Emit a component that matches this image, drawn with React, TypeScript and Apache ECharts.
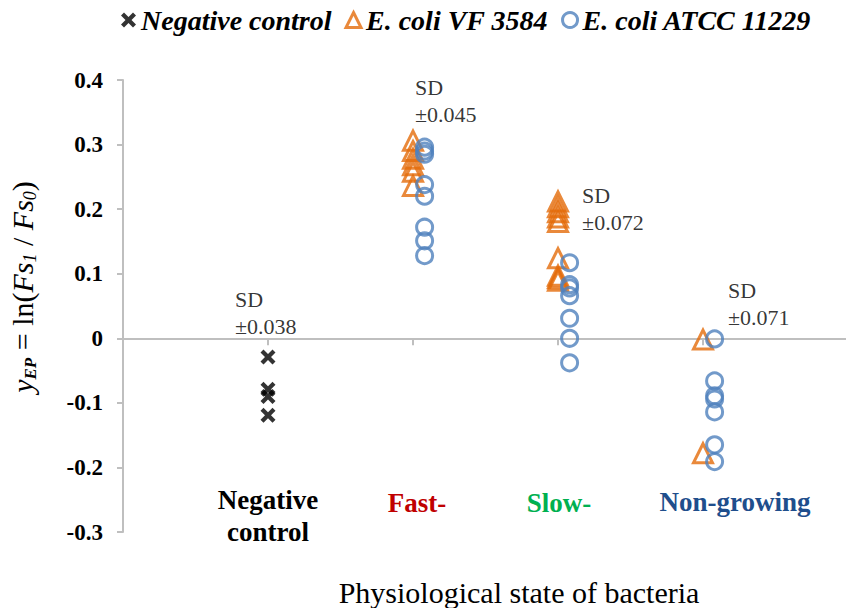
import React, { useEffect, useRef } from "react";
import * as echarts from "echarts";

// ---- data ----
const categories = ["Negative\ncontrol", "Fast-", "Slow-", "Non-growing"];
const categoryColors = ["#000000", "#C00000", "#00B050", "#1F4E8C"];
const seriesNames = ["Negative control", "E. coli VF 3584", "E. coli ATCC 11229"];

const negControl = [-0.029, -0.079, -0.09, -0.119];

const vfFast = [0.306, 0.29, 0.278, 0.268, 0.258, 0.236];
const vfSlow = [0.212, 0.203, 0.195, 0.187, 0.18, 0.124, 0.097, 0.093, 0.089];
const vfNon = [-0.002, -0.178];

const atccFast = [0.296, 0.29, 0.285, 0.238, 0.22, 0.172, 0.151, 0.128];
const atccSlow = [0.117, 0.083, 0.078, 0.066, 0.031, 0.0, -0.038];
const atccNon = [-0.001, -0.066, -0.089, -0.094, -0.114, -0.165, -0.191];

const sdLabels = ["±0.038", "±0.045", "±0.072", "±0.071"];

const yTicks = { min: -0.3, max: 0.4, interval: 0.1 };

const FONT = "Liberation Serif";

const X_PATH =
  "path://M0,2 L2,0 L5,3 L8,0 L10,2 L7,5 L10,8 L8,10 L5,7 L2,10 L0,8 L3,5 Z";

export default function App() {
  const ref = useRef<HTMLDivElement>(null);

  useEffect(() => {
    if (!ref.current) return;
    const chart = echarts.init(ref.current, null, { renderer: "svg" });

    const orange = "#E46C0A";
    const blue = "#4F81BD";
    const gray = "#BFBFBF";

    const atccOffset = 0.08;
    const pts = (vals: number[], x: number) => vals.map((v) => [x, v]);

    // annotation anchors (data space): left edge x, vertical centre y
    const sdAnchors = [
      [0.772, 0.039],
      [2.014, 0.368],
      [3.166, 0.2],
      [4.172, 0.053],
    ];

    const catLayout = [
      { x: 268, y: 516 },
      { x: 417, y: 503 },
      { x: 559, y: 503 },
      { x: 735, y: 502 },
    ];

    const option: any = {
      animation: false,
      backgroundColor: "#ffffff",
      textStyle: { fontFamily: FONT },
      grid: { left: 123, right: 6, top: 80, bottom: 76, containLabel: false },
      legend: {
        left: 116,
        top: 1,
        itemGap: 13,
        itemWidth: 15,
        itemHeight: 15,
        selectedMode: false,
        textStyle: {
          fontFamily: FONT,
          fontStyle: "italic",
          fontWeight: "bold",
          fontSize: 28,
          color: "#000",
        },
        data: [
          {
            name: seriesNames[0],
            icon: X_PATH,
            itemStyle: { color: "#000", borderWidth: 0 },
          },
          {
            name: seriesNames[1],
            icon: "triangle",
            itemStyle: { color: "rgba(0,0,0,0)", borderColor: orange, borderWidth: 3 },
          },
          {
            name: seriesNames[2],
            icon: "circle",
            itemStyle: { color: "rgba(0,0,0,0)", borderColor: blue, borderWidth: 3 },
          },
        ],
      },
      xAxis: {
        type: "value",
        min: 0,
        max: 5,
        interval: 1,
        axisLine: { onZero: true, lineStyle: { color: gray, width: 2 } },
        axisTick: { show: true, length: 7, lineStyle: { color: gray, width: 2 } },
        axisLabel: { show: false },
        splitLine: { show: false },
      },
      yAxis: {
        type: "value",
        min: yTicks.min,
        max: yTicks.max,
        interval: yTicks.interval,
        axisLine: { show: true, onZero: false, lineStyle: { color: gray, width: 2 } },
        axisTick: { show: true, length: 6, lineStyle: { color: gray, width: 2 } },
        axisLabel: {
          margin: 20,
          fontFamily: FONT,
          fontWeight: "bold",
          fontSize: 23,
          color: "#000",
          formatter: (v: number) => {
            const r = Math.round(v * 10) / 10;
            return r === 0 ? "0" : r.toFixed(1);
          },
        },
        splitLine: { show: false },
      },
      series: [
        {
          name: seriesNames[0],
          type: "scatter",
          symbol: X_PATH,
          symbolSize: 15,
          itemStyle: { color: "#000" },
          data: pts(negControl, 1),
        },
        {
          name: seriesNames[1],
          type: "scatter",
          symbol: "triangle",
          symbolSize: 19,
          itemStyle: { color: "rgba(0,0,0,0)", borderColor: orange, borderWidth: 3 },
          data: [...pts(vfFast, 2), ...pts(vfSlow, 3), ...pts(vfNon, 4)],
        },
        {
          name: seriesNames[2],
          type: "scatter",
          symbol: "circle",
          symbolSize: 16,
          itemStyle: { color: "rgba(0,0,0,0)", borderColor: blue, borderWidth: 3 },
          data: [
            ...pts(atccFast, 2 + atccOffset),
            ...pts(atccSlow, 3 + atccOffset),
            ...pts(atccNon, 4 + atccOffset),
          ],
        },
        {
          name: "SD",
          type: "scatter",
          symbolSize: 0,
          clip: false,
          silent: true,
          itemStyle: { color: "rgba(0,0,0,0)" },
          label: {
            show: true,
            position: "right",
            distance: 0,
            align: "left",
            verticalAlign: "middle",
            fontFamily: FONT,
            fontSize: 22,
            lineHeight: 27,
            color: "#000",
            formatter: (p: any) => "SD\n" + sdLabels[p.dataIndex],
          },
          data: sdAnchors.map((a) => [a[0], a[1]]),
        },
      ],
      graphic: [
        ...categories.map((c, i) => ({
          type: "text",
          x: catLayout[i].x,
          y: catLayout[i].y,
          style: {
            text: c,
            align: "center",
            verticalAlign: "middle",
            fontFamily: FONT,
            fontWeight: "bold",
            fontSize: 27,
            lineHeight: 32,
            fill: categoryColors[i],
          },
        })),
        {
          type: "text",
          x: 519,
          y: 592,
          style: {
            text: "Physiological state of bacteria",
            align: "center",
            verticalAlign: "middle",
            fontFamily: FONT,
            fontSize: 30,
            fill: "#000",
          },
        },
        {
          type: "text",
          x: 22,
          y: 287,
          rotation: Math.PI / 2,
          style: {
            text: "{yi|y}{sb|EP}{n| = ln(}{it|Fs}{si|1}{n| / }{it|Fs}{si|0}{n|)}",
            align: "center",
            verticalAlign: "middle",
            fill: "#000",
            rich: {
              yi: { fontFamily: FONT, fontStyle: "italic", fontSize: 30, lineHeight: 34 },
              sb: {
                fontFamily: FONT,
                fontStyle: "italic",
                fontWeight: "bold",
                fontSize: 17,
                lineHeight: 34,
                verticalAlign: "bottom",
              },
              n: { fontFamily: FONT, fontSize: 30, lineHeight: 34 },
              it: { fontFamily: FONT, fontStyle: "italic", fontSize: 30, lineHeight: 34 },
              si: {
                fontFamily: FONT,
                fontStyle: "italic",
                fontSize: 18,
                lineHeight: 34,
                verticalAlign: "bottom",
              },
            },
          },
        },
      ],
    };

    chart.setOption(option);
    return () => chart.dispose();
  }, []);

  return <div ref={ref} style={{ width: 854, height: 608, marginLeft: -8, marginTop: -8 }} />;
}
